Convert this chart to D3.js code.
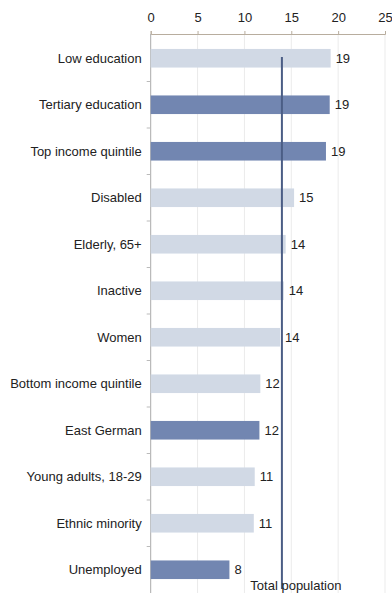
<!DOCTYPE html>
<html>
<head>
<meta charset="utf-8">
<script src="https://cdn.jsdelivr.net/npm/d3@7/dist/d3.min.js"></script>
<style>
  html, body { margin: 0; padding: 0; background: #fff; }
  svg { display: block; font-family: "Liberation Sans", Arial, sans-serif; }
</style>
</head>
<body>
<div id="chart"></div>
<script>
// Share of each group (%), with the total population as reference
const categories = [
  "Low education", "Tertiary education", "Top income quintile", "Disabled",
  "Elderly, 65+", "Inactive", "Women", "Bottom income quintile",
  "East German", "Young adults, 18-29", "Ethnic minority", "Unemployed"
];
const values = [19.2, 19.1, 18.7, 15.3, 14.4, 14.2, 13.8, 11.7, 11.6, 11.1, 11.0, 8.4];
const highlighted = [false, true, true, false, false, false, false, false, true, false, false, true];
const totalPopulation = 14.0;
const xTicks = [0, 5, 10, 15, 20, 25];

const W = 392, H = 593;
const plotLeft = 150.7, plotRight = 385, axisY = 34, bandTop = 35, plotBottom = 593;
const fontSize = 13;

const svg = d3.select("#chart").append("svg")
  .attr("width", W).attr("height", H);

const x = d3.scaleLinear().domain([0, 25]).range([plotLeft, plotRight]);
const y = d3.scaleBand().domain(categories).range([bandTop, plotBottom]).paddingInner(0.6).paddingOuter(0.3);

// vertical gridlines
svg.append("g").selectAll("line")
  .data(xTicks.slice(1))
  .join("line")
  .attr("x1", d => x(d)).attr("x2", d => x(d))
  .attr("y1", axisY).attr("y2", H)
  .attr("stroke", "#ebebeb").attr("stroke-width", 1);

// top axis
const xAxis = svg.append("g").attr("transform", `translate(0,${axisY})`)
  .call(d3.axisTop(x).tickValues(xTicks).tickSize(3).tickPadding(9));
xAxis.select(".domain").attr("stroke", "#b8ad9e");
xAxis.selectAll(".tick line").attr("stroke", "#b8ad9e");
xAxis.selectAll(".tick text").attr("font-size", fontSize).attr("fill", "#222")
  .attr("font-family", "Liberation Sans, Arial, sans-serif");

// left axis line with ticks between categories
svg.append("line")
  .attr("x1", plotLeft).attr("x2", plotLeft).attr("y1", axisY).attr("y2", H)
  .attr("stroke", "#aaa").attr("stroke-width", 1);
const step = y.step();
svg.append("g").selectAll("line")
  .data(categories.slice(1))
  .join("line")
  .attr("x1", plotLeft - 4).attr("x2", plotLeft)
  .attr("y1", (d, i) => bandTop + step * (i + 1))
  .attr("y2", (d, i) => bandTop + step * (i + 1))
  .attr("stroke", "#bbb");

// bars
svg.append("g").selectAll("rect")
  .data(categories)
  .join("rect")
  .attr("x", x(0))
  .attr("y", d => y(d))
  .attr("width", (d, i) => x(values[i]) - x(0))
  .attr("height", y.bandwidth())
  .attr("fill", (d, i) => highlighted[i] ? "#7286b1" : "#d1d9e5");

// category labels
svg.append("g").selectAll("text")
  .data(categories)
  .join("text")
  .attr("x", plotLeft - 9)
  .attr("y", d => y(d) + y.bandwidth() / 2)
  .attr("dy", "0.35em")
  .attr("text-anchor", "end")
  .attr("font-size", fontSize)
  .attr("fill", "#222")
  .text(d => d);

// value labels
svg.append("g").selectAll("text")
  .data(categories)
  .join("text")
  .attr("x", (d, i) => x(values[i]) + 5)
  .attr("y", d => y(d) + y.bandwidth() / 2)
  .attr("dy", "0.35em")
  .attr("font-size", fontSize)
  .attr("fill", "#222")
  .text((d, i) => d3.format(".0f")(values[i]));

// total population reference line
svg.append("line")
  .attr("x1", x(totalPopulation)).attr("x2", x(totalPopulation))
  .attr("y1", y(categories[0]) + 8)
  .attr("y2", y(categories[categories.length - 1]) + y.bandwidth() + 10)
  .attr("stroke", "#4b5d85").attr("stroke-width", 2);

svg.append("text")
  .attr("x", x(totalPopulation) + 14)
  .attr("y", 590)
  .attr("text-anchor", "middle")
  .attr("font-size", fontSize)
  .attr("fill", "#222")
  .text("Total population");
</script>
</body>
</html>
